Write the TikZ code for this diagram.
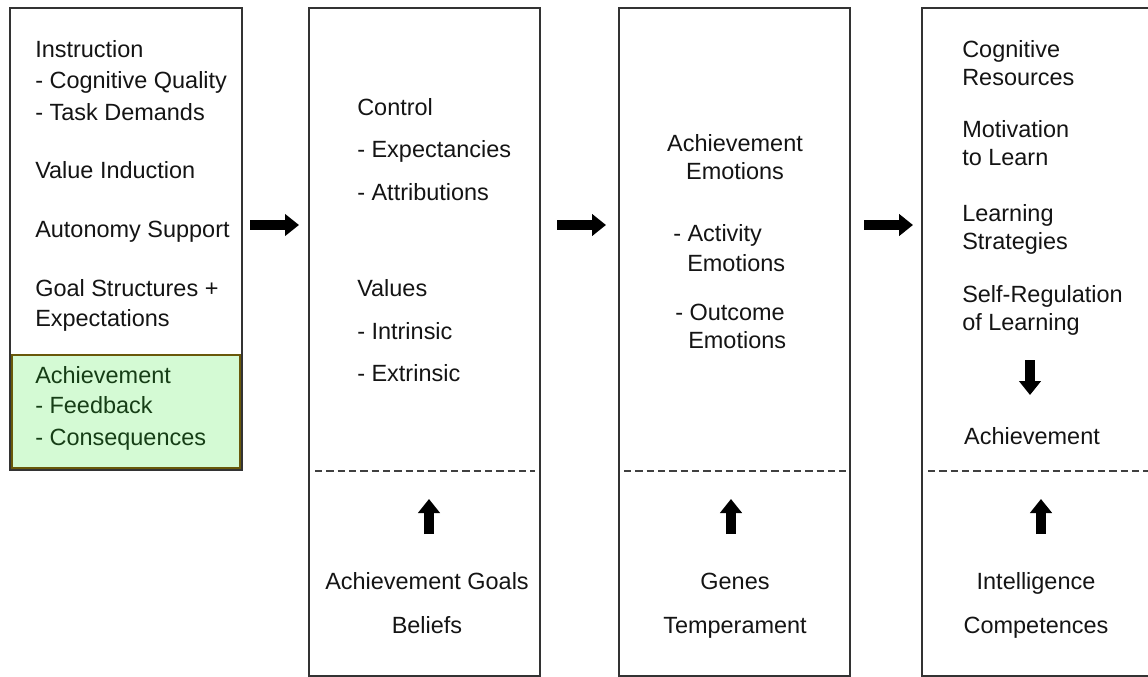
\documentclass[tikz,border=0pt]{standalone}
\usepackage{fontspec}
\setmainfont{Liberation Sans}
\usetikzlibrary{arrows.meta,positioning}
\definecolor{fbfill}{RGB}{212,250,212}
\definecolor{fbline}{RGB}{105,88,10}
\definecolor{fbtext}{RGB}{22,62,22}

\begin{document}
\begin{tikzpicture}[x=0.75pt, y=-0.75pt,
    every node/.style={font=\fontsize{17.6}{21}\selectfont, inner sep=0pt, text=black!92},
    lft/.style={anchor=base west},
    mid/.style={anchor=base},
    panel/.style={draw=black!80, line width=1.1pt},
    fbbox/.style={draw=fbline, fill=fbfill, line width=1.9pt},
    cut/.style={draw=black!75, line width=0.9pt, dash pattern=on 5.5pt off 3pt},
    fat/.style={draw=black, line width=8pt, -{Triangle[length=10.5pt, width=16pt]}}]
          \useasboundingbox (0,0) rectangle (1148,677);
          \draw[panel] (10,8) rectangle (242,470);
          \draw[fbbox] (12,355) rectangle (240,468);
          \draw[panel] (309,8) rectangle (540,676);
          \draw[panel] (619,8) rectangle (850,676);
          \draw[panel] (1149,8) -| (922,676) -- (1149,676);
          \draw[cut] (315,471) -- (535,471);
          \draw[cut] (624,471) -- (846,471);
          \draw[cut] (928,471) -- (1148,471);

          \node[lft] at (35,58) (instr) {Instruction};
          \node[lft] at (35,89) (cogq) {- Cognitive Quality};
          \node[lft] at (35,121) (taskd) {- Task Demands};
          \node[lft] at (35,179) (valind) {Value Induction};
          \node[lft] at (35,238) (auton) {Autonomy Support};
          \node[lft] at (35,296) (goalst) {Goal Structures +};
          \node[lft] at (35,326) (expect) {Expectations};
          \node[lft, text=fbtext] at (35,383) (achv) {Achievement};
          \node[lft, text=fbtext] at (35,413) (feedb) {- Feedback};
          \node[lft, text=fbtext] at (35,445) (conseq) {- Consequences};

          \node[lft] at (357,116) (ctrl) {Control};
          \node[lft] at (357,158) (expc) {- Expectancies};
          \node[lft] at (357,201) (attr) {- Attributions};
          \node[lft] at (357,296) (vals) {Values};
          \node[lft] at (357,339) (intr) {- Intrinsic};
          \node[lft] at (357,381) (extr) {- Extrinsic};
          \node[mid] at (427,589) (achgoals) {Achievement Goals};
          \node[mid] at (427,633) (beliefs) {Beliefs};

          \node[mid] at (735,152) (achemo) {Achievement};
          \node[mid] at (735,180) (emoa) {Emotions};
          \node[lft] at (673,242) (actv) {- Activity};
          \node[lft] at (687,271) (emob) {Emotions};
          \node[lft] at (675,320) (outc) {- Outcome};
          \node[lft] at (688,348) (emoc) {Emotions};
          \node[mid] at (735,589) (genes) {Genes};
          \node[mid] at (735,633) (temper) {Temperament};

          \node[lft] at (962,58) (cogn) {Cognitive};
          \node[lft] at (962,86) (resrc) {Resources};
          \node[lft] at (962,138) (motiv) {Motivation};
          \node[lft] at (962,166) (tolearn) {to Learn};
          \node[lft] at (962,222) (learn) {Learning};
          \node[lft] at (962,249) (strat) {Strategies};
          \node[lft] at (962,302) (selfreg) {Self-Regulation};
          \node[lft] at (962,330) (oflearn) {of Learning};
          \node[mid] at (1032,444) (achmt) {Achievement};
          \node[mid] at (1036,589) (intel) {Intelligence};
          \node[mid] at (1036,633) (compet) {Competences};

          \coordinate (h1a) at (250,225); \coordinate (h1b) at (299,225);
          \coordinate (h2a) at (557,225); \coordinate (h2b) at (606,225);
          \coordinate (h3a) at (864,225); \coordinate (h3b) at (913,225);
          \coordinate (dna) at (1030,360); \coordinate (dnb) at (1030,395);
          \coordinate (u1a) at (429,534); \coordinate (u1b) at (429,499);
          \coordinate (u2a) at (731,534); \coordinate (u2b) at (731,499);
          \coordinate (u3a) at (1041,534); \coordinate (u3b) at (1041,499);
          \draw[fat] (h1a) -- (h1b);
          \draw[fat] (h2a) -- (h2b);
          \draw[fat] (h3a) -- (h3b);
          \draw[fat] (dna) -- (dnb);
          \draw[fat] (u1a) -- (u1b);
          \draw[fat] (u2a) -- (u2b);
          \draw[fat] (u3a) -- (u3b);
\end{tikzpicture}
\end{document}
